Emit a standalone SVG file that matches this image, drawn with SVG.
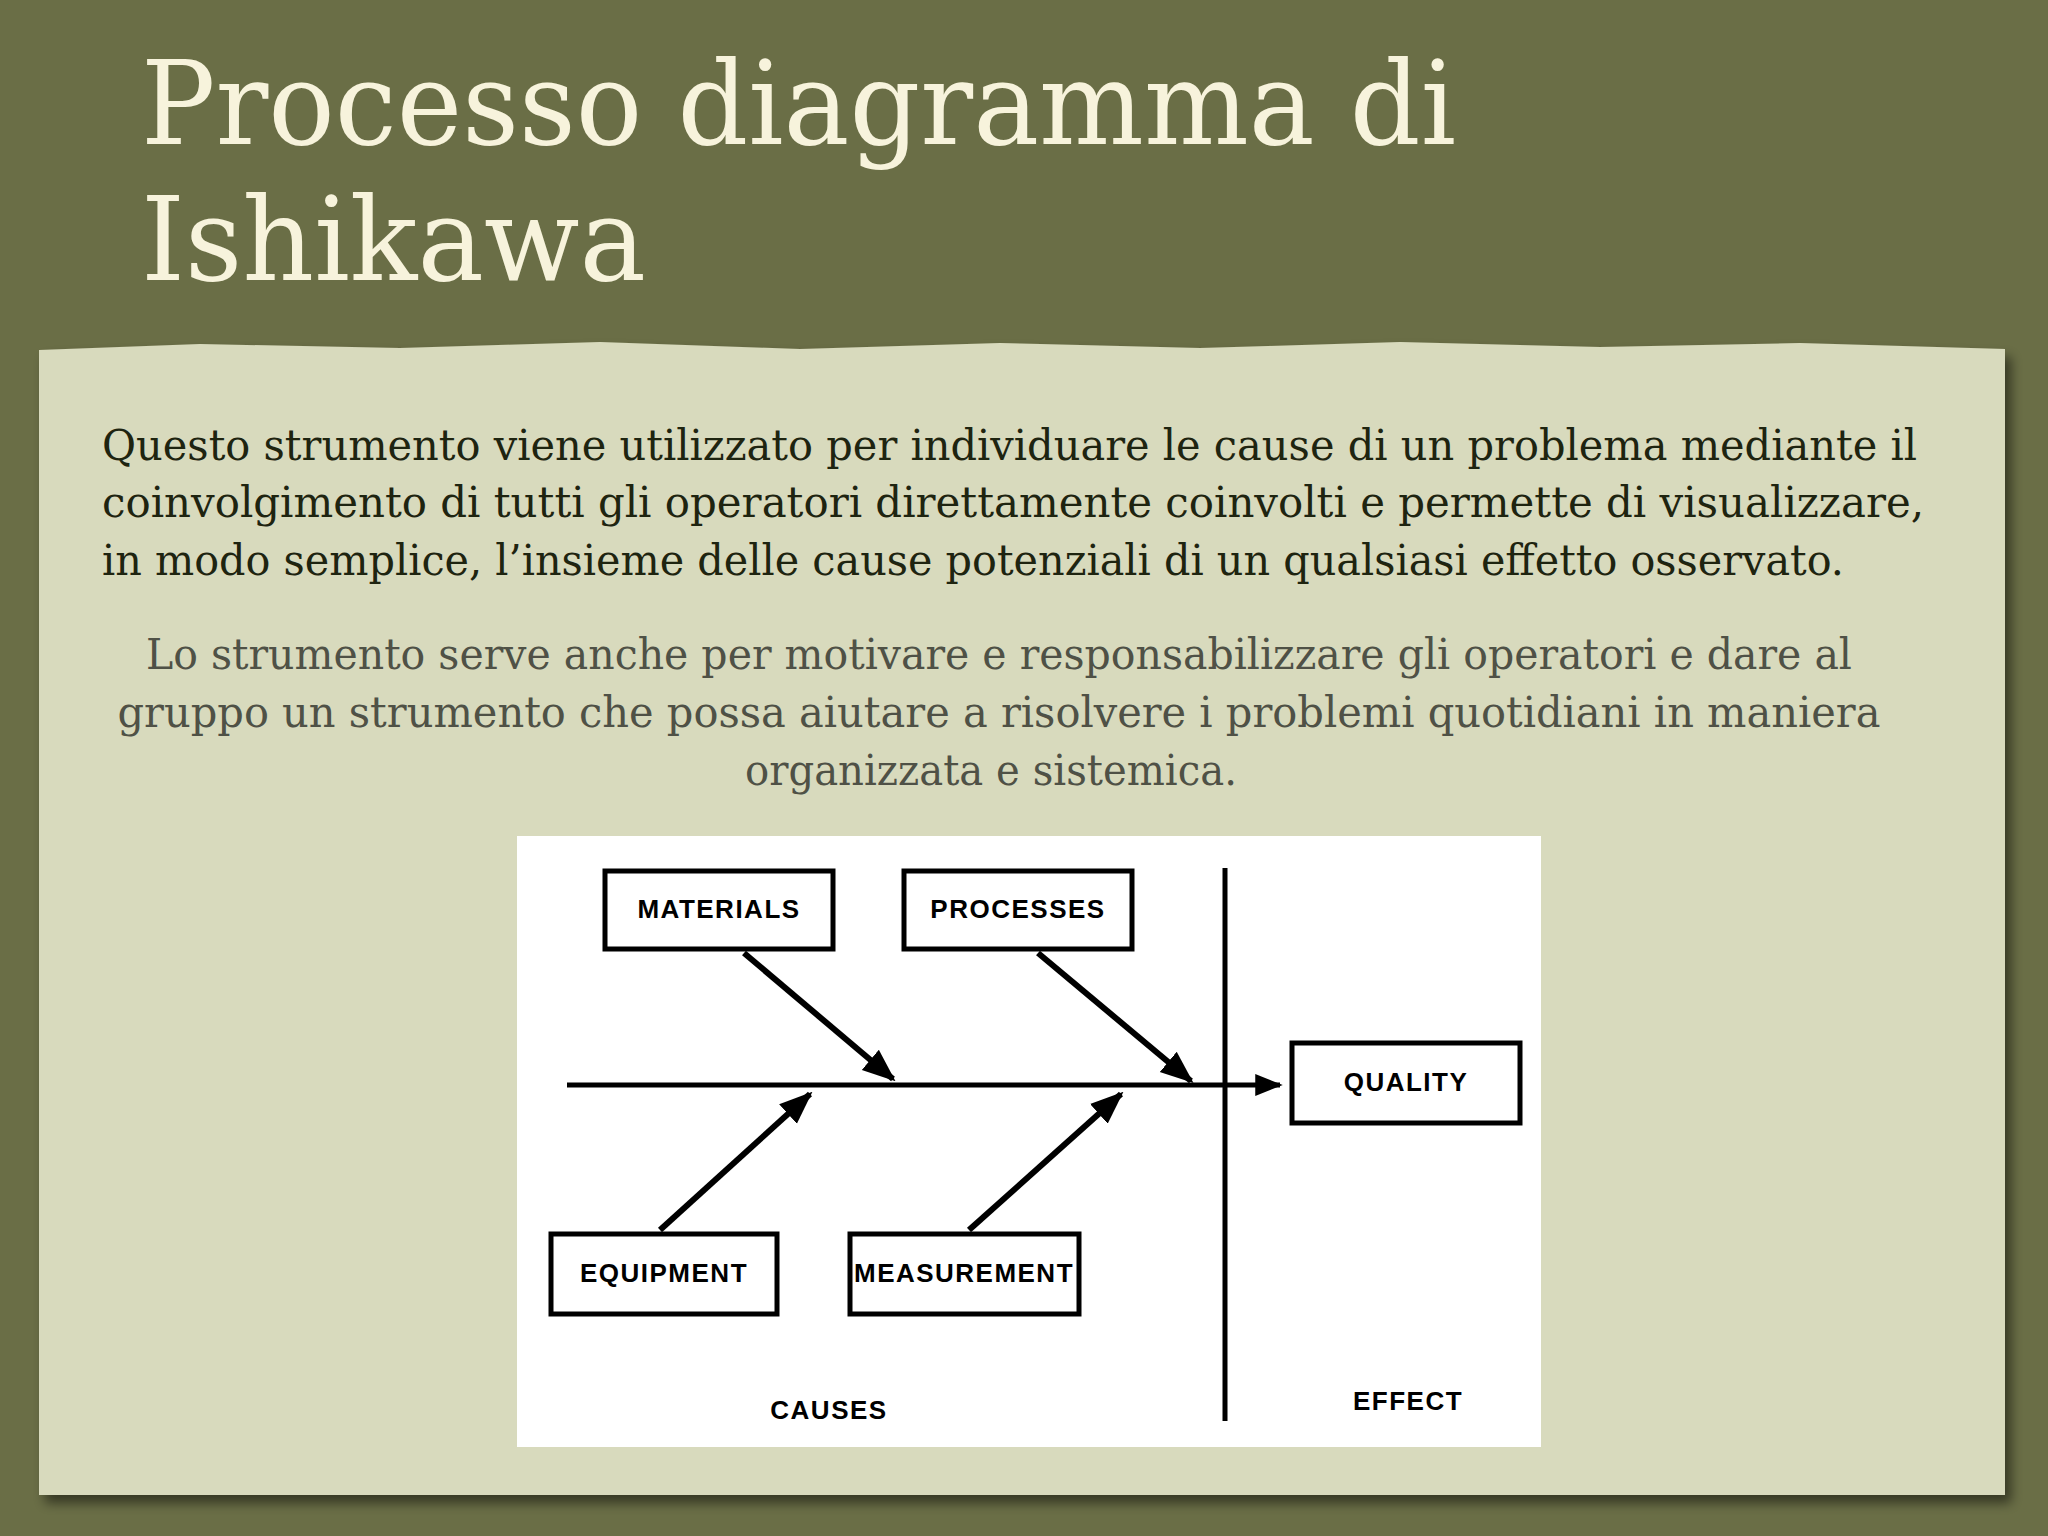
<svg xmlns="http://www.w3.org/2000/svg" width="2048" height="1536" viewBox="0 0 2048 1536">
<defs>
<marker id="ah" viewBox="0 0 10 10" refX="9" refY="5" markerWidth="5.5" markerHeight="5.5" orient="auto-start-reverse" markerUnits="strokeWidth"><path d="M0,1 L10,5 L0,9 z" fill="#000"/></marker>
<filter id="sh"><feDropShadow dx="6" dy="8" stdDeviation="6" flood-color="#000" flood-opacity="0.5"/></filter>
</defs>
<style>
.box{fill:#fff;stroke:#000;stroke-width:5}
.lbl{font-family:"Liberation Sans",Arial,sans-serif;font-weight:bold;font-size:26px;text-anchor:middle;letter-spacing:1.5px}
.ln{stroke:#000;stroke-width:5;fill:none}
.ar{stroke:#000;stroke-width:6;fill:none}
.p1{font-family:"DejaVu Serif","Liberation Serif",serif;font-size:42px;fill:#1e2410}
.p2{font-family:"DejaVu Serif","Liberation Serif",serif;font-size:42px;fill:#4f5146;text-anchor:middle}
</style>
<rect width="2048" height="1536" fill="#6a6e46"/>
<text x="141" y="144" font-family="DejaVu Serif,Liberation Serif,serif" font-size="116" fill="#f7f3dc" textLength="1315" lengthAdjust="spacingAndGlyphs">Processo diagramma di</text>
<text x="141" y="280" font-family="DejaVu Serif,Liberation Serif,serif" font-size="116" fill="#f7f3dc" textLength="505" lengthAdjust="spacingAndGlyphs">Ishikawa</text>
<path d="M39,350 L200,344 L400,348 L600,342 L800,349 L1000,343 L1200,348 L1400,342 L1600,347 L1800,343 L2005,349 L2005,1495 L39,1495 Z" fill="#d8dabd" filter="url(#sh)"/>
<text class="p1" x="102" y="460" textLength="1815" lengthAdjust="spacingAndGlyphs">Questo strumento viene utilizzato per individuare le cause di un problema mediante il</text>
<text class="p1" x="102" y="517" textLength="1822" lengthAdjust="spacingAndGlyphs">coinvolgimento di tutti gli operatori direttamente coinvolti e permette di visualizzare,</text>
<text class="p1" x="102" y="575" textLength="1742" lengthAdjust="spacingAndGlyphs">in modo semplice, l’insieme delle cause potenziali di un qualsiasi effetto osservato.</text>
<text class="p2" x="999" y="669" textLength="1706" lengthAdjust="spacingAndGlyphs">Lo strumento serve anche per motivare e responsabilizzare gli operatori e dare al</text>
<text class="p2" x="999" y="727" textLength="1763" lengthAdjust="spacingAndGlyphs">gruppo un strumento che possa aiutare a risolvere i problemi quotidiani in maniera</text>
<text class="p2" x="991" y="785" textLength="492" lengthAdjust="spacingAndGlyphs">organizzata e sistemica.</text>
<rect x="517" y="836" width="1024" height="611" fill="#fff"/>
<g id="connectors">
<line class="ln" x1="567" y1="1085" x2="1280" y2="1085" marker-end="url(#ah)"/>
<line class="ln" x1="1225" y1="868" x2="1225" y2="1421"/>
<line class="ar" x1="744" y1="953" x2="893" y2="1079" marker-end="url(#ah)"/>
<line class="ar" x1="1038" y1="953" x2="1191" y2="1081" marker-end="url(#ah)"/>
<line class="ar" x1="660" y1="1230" x2="810" y2="1094" marker-end="url(#ah)"/>
<line class="ar" x1="969" y1="1230" x2="1121" y2="1094" marker-end="url(#ah)"/>
</g>
<g id="materials"><rect class="box" x="605" y="871" width="228" height="78"/><text class="lbl" x="719" y="918">MATERIALS</text></g>
<g id="processes"><rect class="box" x="904" y="871" width="228" height="78"/><text class="lbl" x="1018" y="918">PROCESSES</text></g>
<g id="quality"><rect class="box" x="1292" y="1043" width="228" height="80"/><text class="lbl" x="1406" y="1091">QUALITY</text></g>
<g id="equipment"><rect class="box" x="551" y="1234" width="226" height="80"/><text class="lbl" x="664" y="1282">EQUIPMENT</text></g>
<g id="measurement"><rect class="box" x="850" y="1234" width="229" height="80"/><text class="lbl" x="964" y="1282" textLength="220" lengthAdjust="spacingAndGlyphs">MEASUREMENT</text></g>
<g id="causes"><text class="lbl" x="829" y="1419">CAUSES</text></g>
<g id="effect"><text class="lbl" x="1408" y="1410">EFFECT</text></g>
</svg>
